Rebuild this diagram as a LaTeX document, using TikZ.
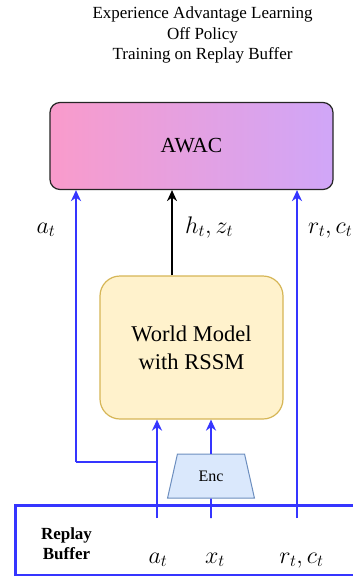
\documentclass[tikz,border=0pt]{standalone}
\usepackage{fix-cm}
\usepackage{fontspec}
\setmainfont{Liberation Serif}
\usetikzlibrary{arrows.meta,shapes.geometric}
\definecolor{bl}{HTML}{3535FF}
\definecolor{pinkL}{HTML}{F99BCB}
\definecolor{lavR}{HTML}{D0A6F8}
\definecolor{wmfill}{HTML}{FFF2CC}
\definecolor{wmdraw}{HTML}{D6B656}
\definecolor{encfill}{HTML}{DAE8FC}
\definecolor{encdraw}{HTML}{6C8EBF}
\tikzset{
  awacbox/.style={draw=black!85, line width=1.2pt, rounded corners=10pt, left color=pinkL, right color=lavR,
    minimum width=283pt, minimum height=87pt, inner sep=0pt, font=\fontsize{21.5}{26}\selectfont},
  wmbox/.style={draw=wmdraw, fill=wmfill, line width=1.2pt, rounded corners=20pt,
    minimum width=183pt, minimum height=143pt, inner sep=0pt, align=center, font=\fontsize{22.5}{28}\selectfont},
  encbox/.style={trapezium, trapezium stretches=true, trapezium angle=71, draw=encdraw, fill=encfill, line width=1pt,
    minimum width=87pt, minimum height=44pt, inner sep=0pt, font=\fontsize{16}{19}\selectfont},
  bufbox/.style={draw=bl, line width=2.6pt, minimum width=352pt, minimum height=70pt, inner sep=0pt},
  blueline/.style={draw=bl, line width=1.8pt},
  blackline/.style={draw=black, line width=1.3pt},
  arr/.style={-{Stealth[length=11pt,width=10pt,inset=3.5pt]}},
  mathlbl/.style={inner sep=0pt, font=\fontsize{24}{28}\selectfont},
}
\begin{document}
\begin{tikzpicture}[x=1pt,y=-1pt]
\useasboundingbox (0,0) rectangle (353,576);
\clip (0,0) rectangle (353,576);
\fill[white] (0,0) rectangle (353,576);
% title
\node[align=center, inner sep=0pt, font=\fontsize{17}{20.5}\selectfont] (title) at (202.5,35)
  {Experience Advantage Learning\\Off Policy\\Training on Replay Buffer};
% boxes
\node[awacbox] (awac) at (191.5,146) {AWAC};
\node[wmbox] (wm) at (191.5,347.5) {World Model\\with RSSM};
\node[encbox] (enc) at (211,476) {Enc};
\node[bufbox, anchor=north west] (buf) at (14,504) {};
\node[align=center, inner sep=0pt, font=\fontsize{17}{20}\selectfont\bfseries] (rb) at (66.5,544) {Replay\\Buffer};
% coordinates
\coordinate (ba) at (157,518);
\coordinate (bx) at (211,518);
\coordinate (br) at (297,518);
\coordinate (j) at (157,462);
\coordinate (la) at (76,462);
\coordinate (k) at (172,0);
% connectors
\draw[blueline,arr] (ba) -- (ba |- wm.south);
\draw[blueline] (j) -- (la);
\draw[blueline,arr] (la) -- (la |- awac.south);
\draw[blueline] (bx) -- (enc.south);
\draw[blueline,arr] (enc.north) -- (enc.north |- wm.south);
\draw[blueline,arr] (br) -- (br |- awac.south);
\draw[blackline,arr] (wm.north -| k) -- (awac.south -| k);
% labels
\node[mathlbl, anchor=base] (la1) at (46,233) {$a_t$};
\node[mathlbl, anchor=base west] (lhz) at (185,233) {$h_t, z_t$};
\node[mathlbl, anchor=base west] (lrc) at (308,233) {$r_t, c_t$};
\node[mathlbl, anchor=base] (ba1) at (158,563) {$a_t$};
\node[mathlbl, anchor=base] (bx1) at (215,563) {$x_t$};
\node[mathlbl, anchor=base] (brc) at (301.5,563) {$r_t, c_t$};
\end{tikzpicture}
\end{document}
